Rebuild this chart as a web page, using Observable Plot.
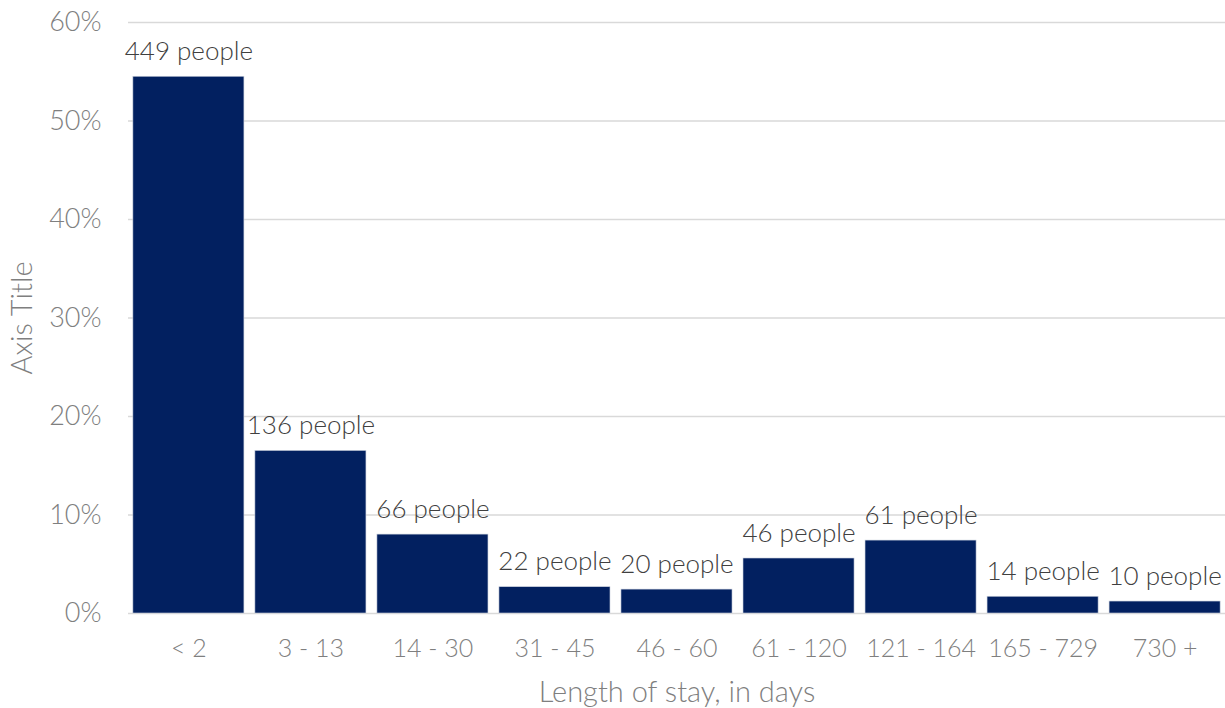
<!DOCTYPE html>
<html>
<head>
<meta charset="utf-8">
<script src="https://cdn.jsdelivr.net/npm/d3@7"></script>
<script src="https://cdn.jsdelivr.net/npm/@observablehq/plot@0.6"></script>
<style>
  html, body { margin: 0; padding: 0; background: #fff; }
  #chart svg { display: block; }
</style>
</head>
<body>
<div id="chart"></div>
<script>
// Length-of-stay groups and the number of people in each
const stayGroups = ["< 2", "3 - 13", "14 - 30", "31 - 45", "46 - 60", "61 - 120", "121 - 164", "165 - 729", "730 +"];
const peopleCounts = [449, 136, 66, 22, 20, 46, 61, 14, 10];
const yTicks = [0, 0.1, 0.2, 0.3, 0.4, 0.5, 0.6];

// Each bar shows the group's share of everyone counted
const totalPeople = d3.sum(peopleCounts);
const rows = stayGroups.map((group, i) => ({
  group,
  people: peopleCounts[i],
  share: peopleCounts[i] / totalPeople
}));

const font = "Lato, 'Noto Sans', sans-serif";
const axisGray = "#7f7f7f";

const chart = Plot.plot({
  width: 1225,
  height: 708,
  marginLeft: 128,
  marginRight: 0,
  marginTop: 22,
  marginBottom: 95,
  style: { fontFamily: font, background: "#fff" },
  x: {
    type: "band",
    domain: stayGroups,
    paddingInner: 0.09,
    paddingOuter: 0.04,
    round: false
  },
  y: { domain: [0, 0.6] },
  marks: [
    Plot.ruleY(yTicks, { stroke: "#d9d9d9", strokeWidth: 1.5 }),
    Plot.barY(rows, {
      x: "group",
      y: "share",
      fill: "#022060",
      stroke: "#c9cfdc",
      strokeWidth: 0.6
    }),
    Plot.text(rows, {
      x: "group",
      y: "share",
      text: d => `${d.people} people`,
      lineAnchor: "bottom",
      dy: -17,
      fill: "#404040",
      fontSize: 26,
      fontWeight: 300
    }),
    // tick labels
    Plot.axisY({
      ticks: yTicks,
      tickFormat: d => `${Math.round(d * 100)}%`,
      tickSize: 0,
      tickPadding: 27,
      fontSize: 27,
      fontWeight: 300,
      color: axisGray,
      label: null
    }),
    Plot.axisX({
      tickSize: 0,
      tickPadding: 26,
      fontSize: 25,
      fontWeight: 300,
      color: axisGray,
      label: null
    }),
    // axis titles
    Plot.axisY({
      ticks: [],
      tickSize: 0,
      fontSize: 29,
      fontWeight: 300,
      color: axisGray,
      label: "Axis Title",
      labelAnchor: "center",
      labelArrow: false,
      labelOffset: 117
    }),
    Plot.axisX({
      ticks: [],
      tickSize: 0,
      fontSize: 29,
      fontWeight: 300,
      color: axisGray,
      label: "Length of stay, in days",
      labelAnchor: "center",
      labelArrow: false,
      labelOffset: 88
    })
  ]
});

document.getElementById("chart").appendChild(chart);
</script>
</body>
</html>
